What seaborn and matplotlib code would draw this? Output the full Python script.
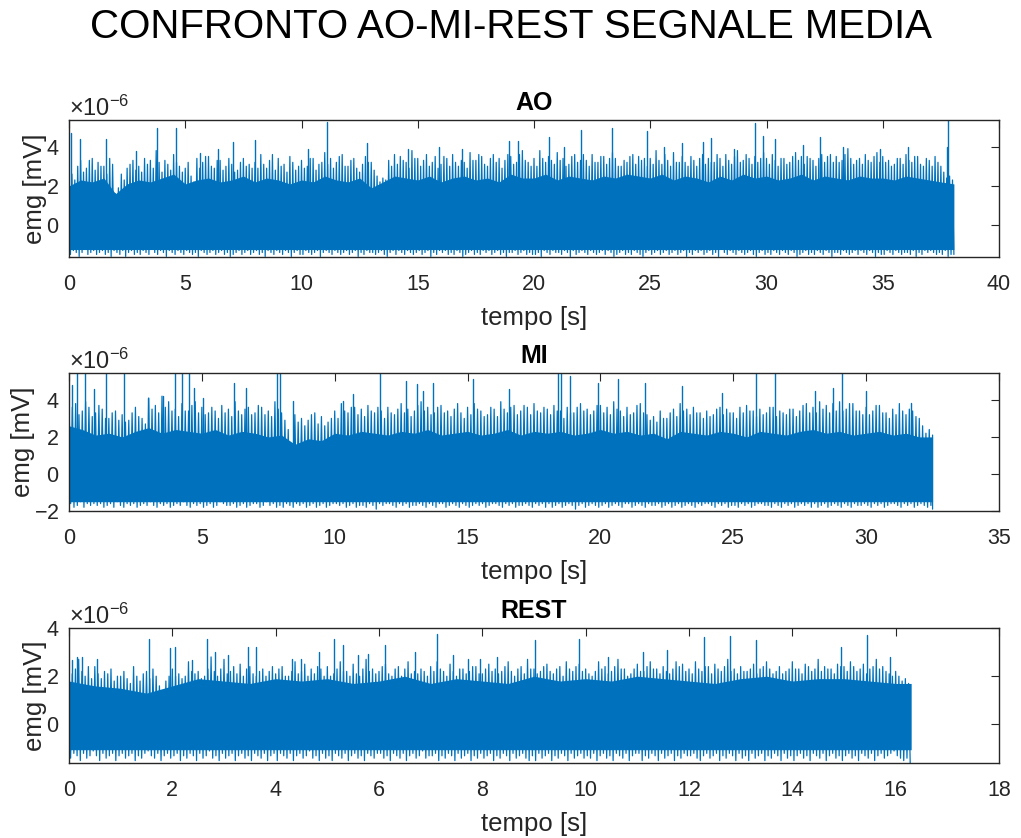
import numpy as np
import pandas as pd
import matplotlib
matplotlib.use("Agg")
import matplotlib.pyplot as plt
import seaborn as sns

# ---------------- data (values in units of 1e-6 mV) ----------------
SCALE = 1e-6
SUPTITLE = "CONFRONTO AO-MI-REST SEGNALE MEDIA"
titles = ["AO", "MI", "REST"]
xlabel_txt = "tempo [s]"
ylabel_txt = "emg [mV]"
core_step = 0.5  # spacing of the dense-band top readings

# AO: per-bin maxima / minima every 0.125 s (t = 0 ... 38.0), signal ends at 38.06 s
ao_step = 0.125
ao_end = 38.06
ao_up = [3.4, 2.6, 2.3, 3.0, 3.3, 2.7, 2.9, 3.3, 3.4, 2.8, 3.2, 3.0, 3.0, 2.6, 3.4, 3.1,
         1.6, 1.9, 2.6, 2.3, 2.9, 3.1, 3.3, 2.8, 3.0, 2.7, 3.4, 3.1, 3.3, 2.9, 3.8, 3.2,
         2.7, 3.3, 3.1, 2.8, 3.6, 3.2, 3.0, 2.7, 2.9, 3.2, 2.5, 2.2, 3.4, 2.9, 3.2, 3.5,
         3.5, 3.0, 2.9, 3.3, 3.3, 2.8, 3.0, 3.4, 3.1, 2.7, 2.8, 3.2, 3.4, 3.0, 3.1, 2.9,
         3.2, 2.9, 3.6, 3.1, 2.9, 3.3, 3.6, 2.8, 3.4, 3.0, 3.1, 2.7, 3.5, 3.2, 2.8, 3.0,
         3.3, 2.9, 3.0, 3.4, 3.4, 2.8, 3.1, 3.2, 3.7, 3.1, 3.4, 2.9, 3.2, 3.5, 3.6, 3.0,
         3.0, 3.3, 3.4, 2.9, 2.7, 3.1, 3.5, 3.2, 3.2, 2.8, 2.5, 2.2, 2.4, 2.3, 3.3, 3.0,
         3.6, 3.1, 3.5, 3.3, 3.2, 2.9, 3.8, 3.4, 3.4, 3.0, 3.3, 3.6, 3.0, 3.2, 3.5, 2.9,
         3.1, 3.5, 3.4, 3.0, 3.6, 3.2, 3.0, 3.3, 3.2, 2.9, 3.7, 3.3, 3.3, 3.6, 3.5, 3.1,
         3.0, 3.4, 3.6, 3.2, 3.4, 2.9, 3.3, 3.6, 3.5, 3.1, 3.2, 3.6, 3.8, 3.3, 3.2, 3.0,
         3.4, 3.0, 3.8, 3.4, 3.2, 3.5, 3.3, 3.1, 3.7, 3.3, 3.4, 3.0, 3.1, 3.5, 3.6, 3.2,
         3.3, 3.6, 3.3, 3.0, 3.6, 3.2, 3.2, 3.5, 3.5, 3.1, 3.4, 3.7, 3.4, 3.0, 3.0, 3.3,
         3.2, 3.5, 3.6, 3.1, 3.5, 3.3, 3.4, 3.0, 3.4, 3.1, 3.8, 3.3, 3.1, 3.6, 3.3, 3.0,
         3.7, 3.2, 3.2, 3.5, 3.2, 3.0, 3.5, 3.3, 3.0, 3.4, 3.6, 3.1, 3.4, 3.2, 3.2, 3.6,
         3.4, 3.0, 3.6, 3.3, 3.1, 3.5, 3.8, 3.2, 3.3, 3.6, 3.4, 3.1, 3.5, 3.2, 3.4, 3.7,
         3.4, 3.1, 3.6, 3.3, 3.0, 3.4, 3.4, 3.1, 3.2, 3.5, 3.7, 3.3, 3.5, 3.1, 3.5, 3.4,
         3.3, 3.0, 3.4, 3.6, 3.2, 3.5, 3.6, 3.2, 3.5, 3.2, 3.3, 3.6, 3.9, 3.4, 3.1, 3.3,
         3.4, 3.1, 3.6, 3.3, 3.2, 3.5, 3.7, 3.2, 3.5, 3.2, 3.3, 3.0, 3.1, 3.4, 3.4, 3.1,
         3.6, 3.3, 3.2, 3.5, 3.5, 3.1, 3.0, 3.4, 3.3, 3.0, 3.5, 3.2, 3.0, 2.7, 2.4, 2.5,
         2.3]
ao_lo = [-1.5, -1.3, -1.4, -1.6, -1.4, -1.2, -1.5, -1.4, -1.3, -1.5, -1.4, -1.3, -1.5, -1.4, -1.6, -1.3,
         -1.4, -1.5, -1.3, -1.6, -1.4, -1.3, -1.5, -1.4, -1.5, -1.3, -1.4, -1.5, -1.2, -1.4, -1.5, -1.3,
         -1.4, -1.6, -1.3, -1.4, -1.5, -1.3, -1.4, -1.5, -1.3, -1.4, -1.5, -1.4, -1.6, -1.3, -1.4, -1.5,
         -1.4, -1.3, -1.5, -1.4, -1.3, -1.5, -1.4, -1.6, -1.5, -1.4, -1.3, -1.5, -1.4, -1.3, -1.5, -1.4,
         -1.3, -1.5, -1.4, -1.6, -1.3, -1.4, -1.5, -1.3, -1.4, -1.5, -1.3, -1.4, -1.6, -1.4, -1.3, -1.5,
         -1.5, -1.3, -1.4, -1.5, -1.4, -1.3, -1.6, -1.4, -1.3, -1.4, -1.5, -1.3, -1.4, -1.5, -1.4, -1.3,
         -1.5, -1.4, -1.3, -1.6, -1.4, -1.5, -1.3, -1.4, -1.4, -1.5, -1.4, -1.3, -1.5, -1.6, -1.4, -1.3,
         -1.5, -1.3, -1.4, -1.5, -1.3, -1.4, -1.5, -1.4, -1.3, -1.5, -1.4, -1.3, -1.6, -1.4, -1.5, -1.3,
         -1.4, -1.3, -1.5, -1.4, -1.5, -1.3, -1.4, -1.6, -1.5, -1.4, -1.3, -1.5, -1.4, -1.5, -1.3, -1.4,
         -1.3, -1.5, -1.4, -1.3, -1.5, -1.4, -1.6, -1.4, -1.4, -1.3, -1.5, -1.4, -1.3, -1.5, -1.4, -1.5,
         -1.5, -1.4, -1.6, -1.3, -1.4, -1.5, -1.3, -1.4, -1.4, -1.5, -1.3, -1.4, -1.6, -1.3, -1.5, -1.4,
         -1.3, -1.4, -1.5, -1.3, -1.4, -1.5, -1.4, -1.3, -1.5, -1.3, -1.4, -1.6, -1.5, -1.4, -1.3, -1.5,
         -1.4, -1.5, -1.3, -1.4, -1.5, -1.6, -1.4, -1.3, -1.5, -1.4, -1.3, -1.5, -1.4, -1.3, -1.5, -1.4,
         -1.3, -1.5, -1.4, -1.3, -1.6, -1.4, -1.5, -1.3, -1.4, -1.3, -1.5, -1.4, -1.3, -1.5, -1.4, -1.6,
         -1.2, -1.4, -1.5, -1.3, -1.4, -1.5, -1.3, -1.4, -1.5, -1.4, -1.3, -1.5, -1.6, -1.4, -1.3, -1.5,
         -1.4, -1.5, -1.3, -1.4, -1.5, -1.3, -1.4, -1.5, -1.3, -1.4, -1.6, -1.5, -1.4, -1.3, -1.5, -1.4,
         -1.5, -1.3, -1.4, -1.5, -1.3, -1.4, -1.6, -1.4, -1.4, -1.5, -1.3, -1.4, -1.5, -1.4, -1.3, -1.5,
         -1.3, -1.4, -1.5, -1.3, -1.4, -1.6, -1.4, -1.5, -1.5, -1.3, -1.4, -1.5, -1.3, -1.4, -1.5, -1.4,
         -1.4, -1.5, -1.3, -1.6, -1.4, -1.5, -1.3, -1.4, -1.3, -1.4, -1.5, -1.4, -1.5, -1.3, -1.6, -1.5,
         -1.5]
# dense-band top every 0.5 s (t = 0 ... 37.5), last value at signal end
ao_core = [2.0, 2.3, 2.2, 2.4, 1.6, 2.1, 2.3, 2.2, 2.4, 2.6,
           2.1, 2.3, 2.4, 2.2, 2.3, 2.5, 2.2, 2.4, 2.3, 2.1,
           2.3, 2.2, 2.5, 2.3, 2.2, 2.4, 1.9, 2.2, 2.5, 2.4,
           2.3, 2.5, 2.2, 2.4, 2.5, 2.3, 2.4, 2.2, 2.6, 2.4,
           2.4, 2.6, 2.3, 2.5, 2.4, 2.3, 2.5, 2.4, 2.6, 2.5,
           2.4, 2.6, 2.3, 2.5, 2.4, 2.2, 2.5, 2.3, 2.6, 2.4,
           2.5, 2.3, 2.4, 2.6, 2.3, 2.5, 2.4, 2.3, 2.5, 2.4,
           2.4, 2.3, 2.5, 2.4, 2.3, 2.2, 2.1]
ao_floor = -1.25
ao_spk_t = [0.07, 0.47, 1.6, 2.9, 3.77, 4.59, 5.63, 6.4, 7.07, 8.0, 10.3, 11.08, 12.8, 14.6, 15.9, 16.9,
            18.94, 19.3, 20.65, 21.3, 22.02, 23.34, 24.84, 25.6, 26.35, 27.28, 27.6, 28.6, 29.5, 29.86,
            30.37, 31.58, 32.3, 33.3, 34.9, 36.1, 37.75, 37.8]
ao_spk_v = [4.68, 4.4, 4.4, 3.8, 4.93, 4.93, 3.66, 3.9, 4.25, 4.34, 3.9, 5.27, 4.2, 3.9, 4.0, 3.9,
            4.3, 4.3, 4.5, 4.0, 4.85, 4.97, 4.81, 4.0, 4.17, 4.25, 4.42, 3.9, 5.19, 4.54,
            4.37, 4.08, 4.5, 4.0, 3.9, 4.0, 4.0, 5.36]

# MI: every 0.125 s (t = 0 ... 32.5), signal ends at 32.5 s
mi_step = 0.125
mi_end = 32.5
mi_up = [4.2, 3.6, 3.8, 3.2, 3.4, 3.9, 3.6, 3.1, 3.3, 3.7, 3.5, 3.0, 3.0, 3.3, 3.4, 2.9,
         3.2, 2.8, 2.9, 3.3, 3.6, 3.1, 3.0, 2.7, 4.1, 3.5, 3.7, 3.3, 4.2, 3.6, 3.9, 3.4,
         3.5, 3.1, 3.8, 3.4, 3.4, 3.7, 3.9, 3.3, 3.6, 3.2, 3.3, 3.6, 3.4, 3.0, 3.7, 3.3,
         3.5, 3.1, 3.9, 3.4, 3.2, 3.5, 3.6, 3.2, 3.3, 3.7, 3.6, 3.2, 3.4, 3.1, 3.9, 3.5,
         3.3, 2.9, 2.4, 1.2, 3.2, 2.8, 3.0, 2.6, 2.9, 3.2, 3.3, 2.7, 3.1, 2.6, 2.8, 3.0,
         3.4, 3.0, 3.8, 3.4, 3.3, 3.6, 3.6, 3.2, 3.5, 3.1, 3.7, 3.4, 3.3, 3.6, 3.4, 3.0,
         3.6, 3.3, 3.2, 3.5, 3.8, 3.3, 3.5, 3.1, 3.4, 3.7, 3.9, 3.4, 3.6, 3.2, 3.3, 3.6,
         3.7, 3.3, 3.4, 3.1, 3.5, 3.8, 3.3, 3.0, 3.6, 3.2, 3.8, 3.5, 3.4, 3.1, 3.2, 3.6,
         3.5, 3.1, 3.9, 3.5, 3.3, 3.6, 3.7, 3.2, 3.4, 3.7, 3.6, 3.2, 3.8, 3.4, 3.3, 3.6,
         3.5, 3.2, 3.7, 3.4, 3.4, 3.0, 3.6, 3.3, 3.3, 3.6, 3.8, 3.4, 3.5, 3.2, 3.4, 3.7,
         3.7, 3.3, 3.6, 3.2, 3.9, 3.5, 3.4, 3.1, 3.6, 3.2, 3.3, 3.7, 3.8, 3.3, 3.2, 2.9,
         3.1, 2.8, 3.4, 3.0, 3.0, 3.3, 3.5, 3.1, 3.8, 3.4, 3.5, 3.2, 3.6, 3.3, 3.3, 3.0,
         3.4, 3.1, 3.2, 3.5, 3.6, 3.2, 3.5, 3.3, 3.3, 3.0, 3.6, 3.3, 3.7, 3.4, 3.4, 3.1,
         3.5, 3.2, 3.3, 3.6, 3.6, 3.1, 3.4, 3.3, 3.2, 3.5, 3.5, 3.1, 3.4, 3.7, 3.8, 3.3,
         3.6, 3.3, 3.9, 3.5, 3.7, 3.3, 3.8, 3.4, 3.9, 3.4, 3.5, 3.8, 3.8, 3.4, 3.4, 3.2,
         3.6, 3.2, 3.4, 3.7, 3.7, 3.3, 3.3, 3.0, 3.5, 3.2, 3.8, 3.4, 3.2, 3.5, 3.4, 3.1,
         3.0, 2.6, 2.2, 2.4, 2.1]
mi_lo = [-1.6, -1.8, -1.7, -1.5, -1.8, -1.6, -1.7, -1.6, -1.7, -1.6, -1.8, -1.7, -1.6, -1.8, -1.5, -1.7,
         -1.8, -1.6, -1.7, -1.6, -1.8, -1.7, -1.6, -1.7, -1.5, -1.7, -1.8, -1.6, -1.7, -1.6, -1.8, -1.7,
         -1.6, -1.7, -1.5, -1.7, -1.8, -1.6, -1.7, -1.6, -1.8, -1.7, -1.6, -1.8, -1.7, -1.5, -1.6, -1.7,
         -1.7, -1.6, -1.8, -1.7, -1.6, -1.8, -1.7, -1.6, -1.6, -1.8, -1.7, -1.5, -1.7, -1.6, -1.8, -1.7,
         -1.8, -1.6, -1.7, -1.8, -1.6, -1.7, -1.6, -1.8, -1.7, -1.6, -1.8, -1.7, -1.6, -1.8, -1.7, -1.6,
         -1.6, -1.7, -1.6, -1.8, -1.7, -1.6, -1.8, -1.7, -1.7, -1.8, -1.6, -1.7, -1.9, -1.6, -1.7, -1.6,
         -1.6, -1.7, -1.8, -1.6, -1.7, -1.6, -1.8, -1.7, -1.7, -1.6, -1.7, -1.8, -1.6, -1.7, -1.8, -1.6,
         -1.6, -1.8, -1.7, -1.6, -1.7, -1.8, -1.6, -1.7, -1.8, -1.7, -1.6, -1.7, -1.6, -1.8, -1.7, -1.6,
         -1.6, -1.7, -1.8, -1.6, -1.7, -1.6, -1.8, -1.7, -1.7, -1.6, -1.7, -1.8, -1.6, -1.7, -1.6, -1.8,
         -1.6, -1.8, -1.7, -1.6, -1.8, -1.7, -1.6, -1.7, -1.9, -1.7, -1.6, -1.8, -1.7, -1.6, -1.7, -1.8,
         -1.7, -1.6, -1.8, -1.7, -1.6, -1.7, -1.8, -1.6, -1.6, -1.8, -1.7, -1.6, -1.7, -1.8, -1.6, -1.7,
         -1.7, -1.6, -1.8, -1.7, -1.6, -1.8, -1.7, -1.6, -1.8, -1.7, -1.6, -1.7, -1.8, -1.6, -1.7, -1.6,
         -1.6, -1.7, -1.8, -1.6, -1.7, -1.6, -1.8, -1.7, -1.7, -1.8, -1.6, -1.7, -1.6, -1.8, -1.7, -1.6,
         -1.6, -1.7, -1.7, -1.8, -1.6, -1.7, -1.8, -1.6, -1.7, -1.6, -1.8, -1.7, -1.6, -1.7, -1.6, -1.8,
         -1.6, -1.8, -1.7, -1.6, -1.8, -1.7, -1.6, -1.7, -1.8, -1.6, -1.7, -1.8, -1.6, -1.7, -1.7, -1.6,
         -1.7, -1.8, -1.6, -1.7, -1.6, -1.8, -1.7, -1.6, -1.6, -1.7, -1.8, -1.6, -1.7, -1.6, -1.8, -1.7,
         -1.6, -1.7, -1.8, -1.7, -1.9]
mi_core = [2.6, 2.4, 2.1, 2.2, 2.0, 2.3, 2.5, 2.2, 2.4, 2.3,
           2.2, 2.4, 2.1, 2.3, 2.2, 2.0, 2.1, 1.6, 1.9, 1.8,
           2.2, 2.1, 2.3, 2.2, 2.1, 2.3, 2.2, 2.4, 2.1, 2.2,
           2.3, 2.1, 2.2, 2.4, 2.1, 2.3, 2.2, 2.3, 2.1, 2.2,
           2.4, 2.2, 2.3, 2.1, 2.2, 1.9, 2.3, 2.2, 2.1, 2.3,
           2.2, 2.0, 2.3, 2.2, 2.1, 2.3, 2.4, 2.2, 2.3, 2.1,
           2.2, 2.3, 2.1, 2.2, 2.0, 2.0]
mi_floor = -1.5
mi_spk_t = [0.1, 0.29, 0.6, 0.95, 1.39, 2.08, 2.99, 3.55, 3.99, 4.24, 4.52, 4.72, 5.03, 6.22, 6.65,
            7.84, 7.94, 8.42, 10.33, 10.7, 11.7, 12.68, 13.09, 13.34, 13.71, 15.2, 16.57, 18.42,
            18.5, 18.86, 19.9, 20.68, 21.68, 23.06, 24.57, 25.86, 26.57, 28.07, 28.77, 29.08,
            30.0, 31.7]
mi_spk_v = [4.8, 5.9, 5.8, 4.56, 5.7, 5.8, 4.1, 4.2, 5.9, 5.8, 5.7, 4.65, 4.1, 4.9, 4.65,
            5.8, 5.7, 3.93, 3.93, 4.29, 5.8, 5.0, 4.83, 4.47, 4.9, 5.13, 4.56, 5.9,
            5.7, 5.27, 4.9, 5.1, 4.9, 4.73, 4.38, 5.8, 5.8, 4.47, 4.65, 5.9,
            4.47, 3.84]

# REST: every 0.0625 s (t = 0 ... 16.25), signal ends at 16.3 s
re_step = 0.0625
re_end = 16.3
re_up = [2.6, 2.1, 2.3, 2.7, 2.2, 2.0, 2.4, 1.9, 2.4, 2.1, 1.9, 2.2, 2.1, 2.3, 1.8, 2.0,
         2.0, 2.2, 1.9, 1.7, 2.4, 2.0, 1.8, 2.1, 2.2, 1.9, 2.3, 2.0, 1.6, 1.4, 1.8, 2.0,
         2.3, 2.0, 2.1, 1.9, 2.0, 2.6, 2.2, 2.1, 2.2, 1.9, 2.0, 2.3, 2.8, 2.2, 2.0, 2.3,
         2.7, 2.1, 2.2, 2.4, 2.1, 2.5, 2.0, 2.3, 2.4, 2.1, 2.0, 2.2, 2.3, 2.0, 2.2, 2.4,
         2.1, 2.3, 2.4, 2.0, 2.0, 2.2, 2.6, 2.1, 2.2, 2.5, 2.0, 2.3, 2.1, 2.4, 2.3, 2.0,
         2.4, 2.0, 2.1, 2.3, 2.6, 2.2, 2.2, 2.0, 2.5, 2.1, 2.0, 2.3, 2.7, 2.2, 2.3, 2.1,
         2.2, 2.4, 2.5, 2.1, 2.0, 2.3, 2.4, 2.0, 2.3, 2.6, 2.1, 2.2, 2.1, 2.3, 2.2, 2.0,
         2.4, 2.2, 2.6, 2.3, 2.2, 2.0, 2.5, 2.2, 2.0, 2.3, 2.3, 2.1, 2.2, 2.4, 2.4, 2.1,
         2.1, 2.3, 2.5, 2.2, 2.3, 2.1, 2.2, 2.4, 2.6, 2.2, 2.0, 2.3, 2.4, 2.1, 2.7, 2.3,
         2.3, 2.1, 2.2, 2.4, 2.5, 2.2, 2.1, 2.3, 2.4, 2.0, 2.6, 2.3, 2.2, 2.4, 2.5, 2.2,
         2.3, 2.1, 2.0, 2.2, 2.6, 2.3, 2.4, 2.1, 2.2, 2.4, 2.7, 2.3, 2.3, 2.0, 2.1, 2.3,
         2.5, 2.2, 2.2, 2.4, 2.6, 2.3, 2.3, 2.1, 2.4, 2.2, 2.1, 2.3, 2.6, 2.4, 2.5, 2.2,
         2.3, 2.1, 2.6, 2.3, 2.2, 2.4, 2.4, 2.1, 2.5, 2.3, 2.2, 2.4, 2.7, 2.2, 2.3, 2.1,
         2.4, 2.2, 2.2, 2.3, 2.5, 2.1, 2.3, 2.4, 2.6, 2.3, 2.1, 2.2, 2.4, 2.1, 2.2, 2.3,
         2.6, 2.3, 2.3, 2.1, 2.5, 2.4, 2.2, 2.3, 2.7, 2.2, 2.4, 2.3, 2.3, 2.1, 2.5, 2.4,
         2.4, 2.2, 2.6, 2.4, 2.2, 2.3, 2.5, 2.1, 2.3, 2.4, 2.7, 2.3, 2.4, 2.2, 2.1, 2.0,
         2.2, 2.0, 1.8, 1.9, 1.7]
re_lo = [-1.4, -1.2, -1.3, -1.5, -1.2, -1.4, -1.3, -1.1, -1.3, -1.5, -1.2, -1.4, -1.3, -1.2, -1.5, -1.3,
         -1.2, -1.4, -1.3, -1.2, -1.5, -1.3, -1.4, -1.2, -1.1, -1.3, -1.4, -1.2, -1.5, -1.3, -1.2, -1.4,
         -1.3, -1.2, -1.5, -1.3, -1.4, -1.2, -1.3, -1.5, -1.2, -1.4, -1.3, -1.1, -1.4, -1.3, -1.5, -1.2,
         -1.4, -1.3, -1.2, -1.5, -1.3, -1.2, -1.4, -1.3, -1.5, -1.2, -1.3, -1.4, -1.2, -1.5, -1.3, -1.2,
         -1.5, -1.2, -1.3, -1.4, -1.2, -1.5, -1.3, -1.2, -1.4, -1.3, -1.1, -1.4, -1.3, -1.5, -1.2, -1.4,
         -1.3, -1.5, -1.2, -1.3, -1.4, -1.2, -1.5, -1.3, -1.2, -1.4, -1.3, -1.5, -1.2, -1.3, -1.4, -1.2,
         -1.2, -1.4, -1.3, -1.5, -1.2, -1.3, -1.4, -1.2, -1.5, -1.3, -1.2, -1.4, -1.3, -1.1, -1.4, -1.3,
         -1.3, -1.2, -1.5, -1.3, -1.4, -1.2, -1.3, -1.5, -1.2, -1.4, -1.3, -1.2, -1.5, -1.3, -1.4, -1.2,
         -1.4, -1.3, -1.2, -1.5, -1.3, -1.4, -1.2, -1.3, -1.5, -1.2, -1.4, -1.3, -1.2, -1.4, -1.5, -1.3,
         -1.5, -1.2, -1.4, -1.3, -1.2, -1.5, -1.3, -1.4, -1.2, -1.3, -1.5, -1.2, -1.4, -1.3, -1.2, -1.4,
         -1.3, -1.4, -1.2, -1.5, -1.3, -1.2, -1.4, -1.3, -1.5, -1.2, -1.3, -1.4, -1.2, -1.5, -1.3, -1.2,
         -1.2, -1.5, -1.3, -1.4, -1.2, -1.3, -1.5, -1.2, -1.4, -1.3, -1.2, -1.5, -1.3, -1.4, -1.2, -1.3,
         -1.3, -1.2, -1.4, -1.5, -1.3, -1.2, -1.4, -1.3, -1.2, -1.5, -1.3, -1.4, -1.2, -1.3, -1.5, -1.2,
         -1.4, -1.3, -1.5, -1.2, -1.4, -1.3, -1.2, -1.5, -1.3, -1.4, -1.2, -1.3, -1.5, -1.2, -1.4, -1.3,
         -1.5, -1.3, -1.2, -1.4, -1.3, -1.5, -1.2, -1.3, -1.4, -1.2, -1.5, -1.3, -1.2, -1.4, -1.3, -1.5,
         -1.3, -1.2, -1.4, -1.3, -1.5, -1.2, -1.3, -1.4, -1.2, -1.5, -1.3, -1.2, -1.4, -1.3, -1.2, -1.1,
         -1.3, -1.4, -1.5, -1.4, -1.6]
re_core = [1.8, 1.6, 1.5, 1.3, 1.6, 1.9, 1.8, 1.7, 1.9, 1.8,
           1.9, 1.7, 1.8, 2.0, 1.7, 1.9, 1.8, 1.7, 2.0, 1.8,
           1.9, 1.8, 2.0, 1.9, 1.8, 1.7, 1.9, 2.0, 1.8, 1.9,
           1.9, 1.8, 1.7, 1.7]
re_floor = -1.05
re_spk_t = [0.05, 0.16, 0.25, 0.54, 1.55, 1.95, 2.05, 2.39, 2.68, 2.83, 3.07, 3.47, 3.62, 4.31, 4.49,
            4.83, 5.12, 5.31, 5.6, 5.79, 6.12, 6.7, 7.12, 7.43, 7.73, 7.95, 8.28, 9.02, 9.87, 10.44,
            11.1, 11.58, 12.29, 12.79, 13.3, 14.94, 15.44, 15.89]
re_spk_v = [2.66, 2.8, 2.8, 2.73, 3.56, 3.15, 3.22, 2.69, 3.56, 3.0, 2.87, 3.22, 3.22, 2.73, 2.73,
            3.0, 3.56, 3.28, 2.87, 2.94, 3.28, 3.0, 3.77, 2.87, 2.73, 2.73, 2.8, 3.49, 3.56, 2.8,
            3.0, 3.1, 3.63, 3.66, 3.49, 3.22, 3.7, 2.8]

# axis settings
xlims = [(0, 40), (0, 35), (0, 18)]
xtick_steps = [5, 5, 2]
ylims = [(-1.63, 5.36), (-2.0, 5.45), (-1.6, 4.0)]
yticks_list = [[0, 2, 4], [-2, 0, 2, 4], [0, 2, 4]]

# ---------------- style ----------------
sns.set_style("white")
plt.rcParams["font.family"] = ["Liberation Sans", "DejaVu Sans"]
plt.rcParams["axes.unicode_minus"] = False
plt.rcParams["mathtext.default"] = "regular"
LINE_C = "#0072BD"
TXT_C = "#262626"

W, H = 1021, 838
fig = plt.figure(figsize=(W / 100, H / 100), dpi=100)
# axes boxes in pixels: (left, top, right, bottom)
boxes = [(69, 120, 999, 257), (69, 373, 999, 511), (69, 628, 999, 763)]

panels = [
    (ao_step, ao_end, ao_up, ao_lo, ao_core, ao_floor, ao_spk_t, ao_spk_v),
    (mi_step, mi_end, mi_up, mi_lo, mi_core, mi_floor, mi_spk_t, mi_spk_v),
    (re_step, re_end, re_up, re_lo, re_core, re_floor, re_spk_t, re_spk_v),
]

for i, (step, end_t, up, lo, core, floor, spk_t, spk_v) in enumerate(panels):
    l, t, r, b = boxes[i]
    ax = fig.add_axes([l / W, 1 - b / H, (r - l) / W, (b - t) / H])

    up = np.asarray(up) * SCALE
    lo = np.asarray(lo) * SCALE
    tt = np.arange(len(up)) * step
    xs = np.empty(2 * len(up))
    ys = np.empty(2 * len(up))
    xs[0::2] = tt
    xs[1::2] = np.minimum(tt + step / 2, end_t)
    ys[0::2] = up
    ys[1::2] = lo
    sig = pd.DataFrame({"t": xs, "v": ys})

    core_t = np.append(np.arange(len(core) - 1) * core_step, end_t)
    ax.fill_between(core_t, floor * SCALE, np.asarray(core) * SCALE, color=LINE_C, lw=0, zorder=2)

    sns.lineplot(data=sig, x="t", y="v", sort=False, estimator=None, color=LINE_C,
                 lw=0.9, ax=ax, zorder=3)

    st = np.repeat(np.asarray(spk_t), 2)
    sv = np.ravel(np.column_stack([np.zeros(len(spk_v)), np.asarray(spk_v)])) * SCALE
    sid = np.repeat(np.arange(len(spk_t)), 2)
    spk = pd.DataFrame({"t": st, "v": sv, "id": sid})
    sns.lineplot(data=spk, x="t", y="v", units="id", sort=False, estimator=None,
                 color=LINE_C, lw=1.0, ax=ax, zorder=3)

    x0, x1 = xlims[i]
    ax.set_xlim(x0, x1)
    ax.set_xticks(np.arange(x0, x1 + 0.001, xtick_steps[i]))
    ax.set_ylim(ylims[i][0] * SCALE, ylims[i][1] * SCALE)
    ax.set_yticks(np.asarray(yticks_list[i]) * SCALE)
    ax.ticklabel_format(axis="y", style="sci", scilimits=(0, 0), useMathText=True)
    ax.yaxis.get_offset_text().set_fontsize(17)
    ax.yaxis.get_offset_text().set_color(TXT_C)

    ax.tick_params(direction="in", top=True, right=True, length=6, width=0.8,
                   colors=TXT_C, labelsize=15.5)
    ax.tick_params(axis="x", pad=12)
    ax.tick_params(axis="y", pad=7)
    for s in ax.spines.values():
        s.set_color(TXT_C)
        s.set_linewidth(1.0)
        s.set_zorder(5)

    ax.set_xlabel(xlabel_txt, fontsize=18.5, color=TXT_C, labelpad=8)
    ax.set_ylabel(ylabel_txt, fontsize=18.5, color=TXT_C, labelpad=-0.5)
    ax.set_title(titles[i], fontsize=18, fontweight="bold", color="black", pad=7)

fig.text(0.5, 1 - 27 / H, SUPTITLE, ha="center", va="center", fontsize=29, color="black")

fig.savefig("out.png", dpi=100)
